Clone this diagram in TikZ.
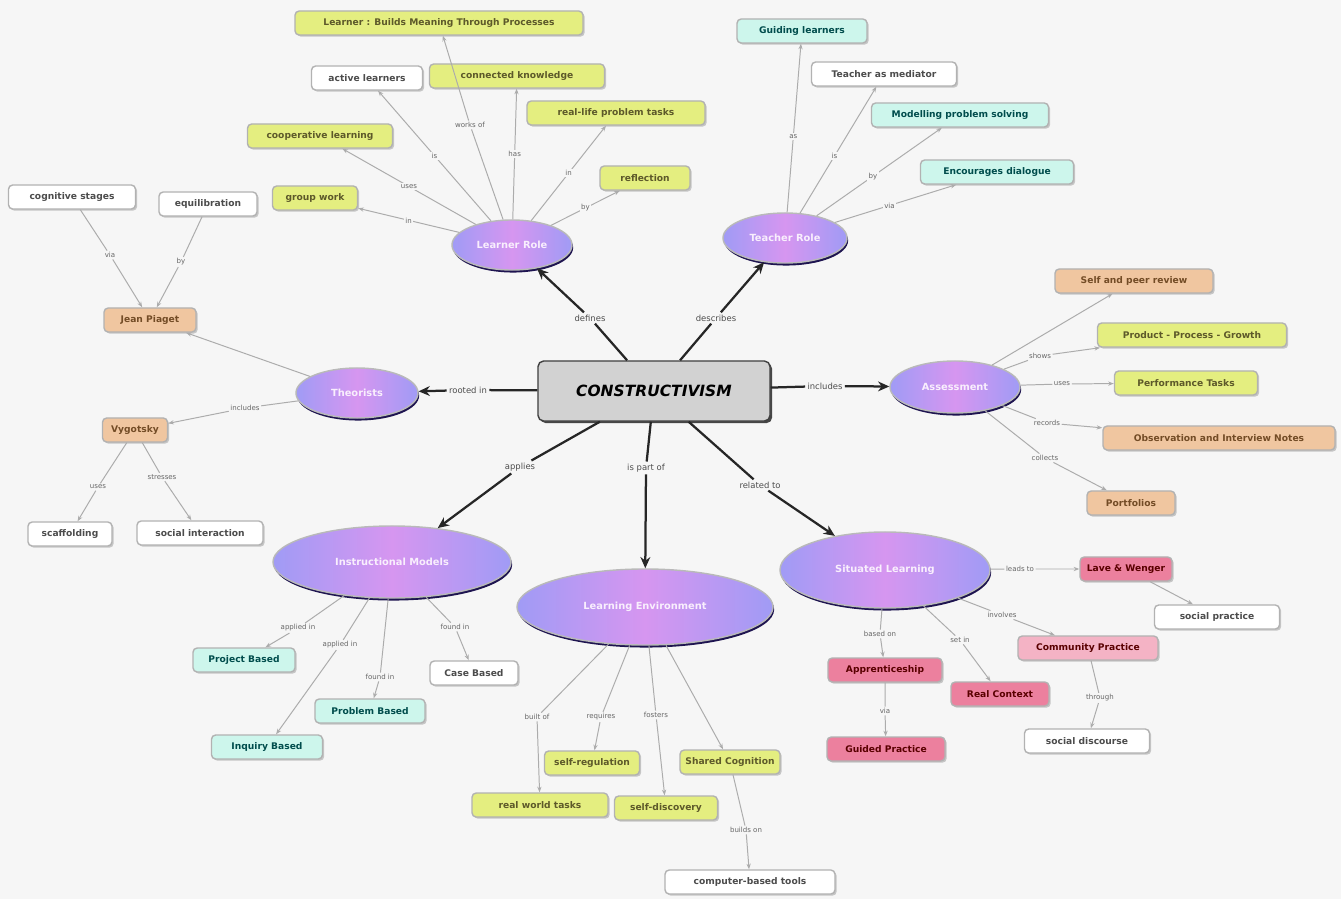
\documentclass[tikz,border=0pt]{standalone}
\usepackage{fontspec}
\setmainfont{DejaVu Sans}
\usepackage{tikz}
\usetikzlibrary{shapes.geometric,shadows,arrows.meta}

\definecolor{bg}{RGB}{246,246,246}
\definecolor{ylw}{RGB}{228,238,128}
\definecolor{cyn}{RGB}{205,246,236}
\definecolor{org}{RGB}{240,198,160}
\definecolor{pnk}{RGB}{236,128,158}
\definecolor{lav}{RGB}{160,155,245}
\definecolor{vio}{RGB}{214,150,240}
\definecolor{navy}{RGB}{30,20,80}

\tikzset{
  concept/.style={draw=gray!60, line width=1pt, rounded corners=3pt, inner sep=2pt,
    minimum height=0.6cm, font=\fontsize{6.5}{7}\selectfont\bfseries,
    drop shadow={shadow xshift=1.2pt, shadow yshift=-1.2pt, fill=gray!60, opacity=.7}},
  bw/.style={minimum width=#1*0.025cm},
  ylwbox/.style={concept, fill=ylw, text=olive!55!black},
  cynbox/.style={concept, fill=cyn, text=teal!60!black},
  orgbox/.style={concept, fill=org, text=brown!60!black},
  pnkbox/.style={concept, fill=pnk, text=red!35!black},
  whtbox/.style={concept, fill=white, text=black!70},
  topic/.style={ellipse, draw=gray!55, line width=1pt, left color=lav, right color=lav, middle color=vio,
    text=white!85!vio, font=\fontsize{7}{8}\selectfont\bfseries,
    drop shadow={shadow xshift=.8pt, shadow yshift=-1.8pt, fill=navy, opacity=1}},
  core/.style={draw=black!75, fill=gray!35, rounded corners=4pt, line width=1pt,
    minimum width=5.8cm, minimum height=1.5cm,
    font=\fontsize{11}{13}\selectfont\bfseries\itshape,
    drop shadow={shadow xshift=1.5pt, shadow yshift=-1.5pt, fill=black!80, opacity=.9}},
  lbl/.style={fill=bg, inner sep=1pt, text=black!60, font=\fontsize{5}{6}\selectfont},
  mlbl/.style={fill=bg, inner sep=1.5pt, text=black!70, font=\fontsize{6}{7}\selectfont},
  mainarr/.style={line width=1.6pt, black!85, -{Stealth[length=8pt,width=7pt]}},
  link/.style={draw=gray!65, line width=.7pt, -{Stealth[length=4pt,width=3pt]}}
}

\begin{document}
\begin{tikzpicture}[x=0.025cm, y=-0.025cm]
\path[use as bounding box, fill=bg] (0,0) rectangle (1341,899);

% centre and topics
\node[core] (cons) at (654,391) {CONSTRUCTIVISM};
\node[topic, minimum width=3cm, minimum height=1.25cm] (learn) at (512,245) {Learner Role};
\node[topic, minimum width=3.1cm, minimum height=1.25cm] (teach) at (785,238) {Teacher Role};
\node[topic, minimum width=3.05cm, minimum height=1.25cm] (theory) at (357,393) {Theorists};
\node[topic, minimum width=3.25cm, minimum height=1.3cm] (assess) at (955,387) {Assessment};
\node[topic, minimum width=5.95cm, minimum height=1.8cm] (models) at (392,562) {Instructional Models};
\node[topic, minimum width=6.4cm, minimum height=1.9cm] (envir) at (645,607) {Learning Environment};
\node[topic, minimum width=5.25cm, minimum height=1.9cm] (situ) at (885,570) {Situated Learning};

\node[mlbl] (m1) at (590,318) {defines};
\node[mlbl] (m2) at (716,318) {describes};
\node[mlbl] (m3) at (468,390) {rooted in};
\node[mlbl] (m4) at (825,386) {includes};
\node[mlbl] (m5) at (520,467) {applies};
\node[mlbl] (m6) at (646,468) {is part of};
\node[mlbl] (m7) at (760,485) {related to};
\foreach \l/\t in {m1/learn, m2/teach, m3/theory, m4/assess, m5/models, m6/envir, m7/situ}
  \draw[mainarr] (cons) -- (\l) -- (\t);

% learner role
\node[ylwbox, bw=288] (procs) at (439,23) {Learner : Builds Meaning Through Processes};
\node[whtbox, bw=111] (active) at (367,78) {active learners};
\node[ylwbox, bw=175] (connect) at (517,76) {connected knowledge};
\node[ylwbox, bw=178] (reallife) at (616,113) {real-life problem tasks};
\node[ylwbox, bw=145] (coop) at (320,136) {cooperative learning};
\node[ylwbox, bw=85] (group) at (315,198) {group work};
\node[ylwbox, bw=90] (reflect) at (645,178) {reflection};
\node[lbl] (lw) at (470,125) {works of};
\draw[link] (learn) -- (lw) -- (procs);
\foreach \n/\t in {active/is, connect/has, reallife/in, coop/uses, group/in, reflect/by}
  \draw[link] (learn) -- node[lbl]{\t} (\n);

% teacher role
\node[cynbox, bw=130] (guide) at (802,31) {Guiding learners};
\node[whtbox, bw=145] (mediat) at (884,74) {Teacher as mediator};
\node[cynbox, bw=177] (modelling) at (960,115) {Modelling problem solving};
\node[cynbox, bw=153] (dialog) at (997,172) {Encourages dialogue};
\foreach \n/\t in {guide/as, mediat/is, modelling/by, dialog/via}
  \draw[link] (teach) -- node[lbl, pos=.45]{\t} (\n);

% theorists
\node[whtbox, bw=127] (stages) at (72,197) {cognitive stages};
\node[whtbox, bw=98] (equil) at (208,204) {equilibration};
\node[orgbox, bw=92] (piaget) at (150,320) {Jean Piaget};
\node[orgbox, bw=65] (vygot) at (135,430) {Vygotsky};
\node[whtbox, bw=84] (scaff) at (70,534) {scaffolding};
\node[whtbox, bw=126] (social) at (200,533) {social interaction};
\node[lbl] (l31) at (110,255) {via};
\node[lbl] (l32) at (181,262) {by};
\node[lbl] (l33) at (245,408) {includes};
\node[lbl] (l34) at (98,487) {uses};
\node[lbl] (l35) at (162,477) {stresses};
\draw[link] (stages) -- (l31) -- (piaget);
\draw[link] (equil) -- (l32) -- (piaget);
\draw[link] (theory) -- (piaget);
\draw[link] (theory) -- (l33) -- (vygot);
\draw[link] (vygot) -- (l34) -- (scaff);
\draw[link] (vygot) -- (l35) -- (social);

% assessment
\node[orgbox, bw=158] (peer) at (1134,281) {Self and peer review};
\node[ylwbox, bw=189] (prod) at (1192,335) {Product - Process - Growth};
\node[ylwbox, bw=143] (perf) at (1186,383) {Performance Tasks};
\node[orgbox, bw=232] (observ) at (1219,438) {Observation and Interview Notes};
\node[orgbox, bw=88] (portf) at (1131,503) {Portfolios};
\node[lbl] (l41) at (1040,356) {shows};
\node[lbl] (l42) at (1062,384) {uses};
\node[lbl] (l43) at (1047,423) {records};
\node[lbl] (l44) at (1045,458) {collects};
\draw[link] (assess) -- (peer);
\draw[link] (assess) -- (l41) -- (prod);
\draw[link] (assess) -- (l42) -- (perf);
\draw[link] (assess) -- (l43) -- (observ);
\draw[link] (assess) -- (l44) -- (portf);

% instructional models
\node[cynbox, bw=102] (project) at (244,660) {Project Based};
\node[cynbox, bw=111] (inquiry) at (267,747) {Inquiry Based};
\node[cynbox, bw=110] (problem) at (370,711) {Problem Based};
\node[whtbox, bw=88] (case) at (474,673) {Case Based};
\node[lbl] (l51) at (298,628) {applied in};
\node[lbl] (l52) at (340,645) {applied in};
\node[lbl] (l53) at (380,677) {found in};
\node[lbl] (l54) at (455,627) {found in};
\draw[link] (models) -- (l51) -- (project);
\draw[link] (models) -- (l52) -- (inquiry);
\draw[link] (models) -- (l53) -- (problem);
\draw[link] (models) -- (l54) -- (case);

% learning environment
\node[ylwbox, bw=95] (selfreg) at (592,763) {self-regulation};
\node[ylwbox, bw=136] (realw) at (540,805) {real world tasks};
\node[ylwbox, bw=103] (selfdisc) at (666,808) {self-discovery};
\node[ylwbox, bw=100] (shared) at (730,762) {Shared Cognition};
\node[whtbox, bw=170] (tools) at (750,882) {computer-based tools};
\node[lbl] (l61) at (537,717) {built of};
\node[lbl] (l62) at (601,717) {requires};
\node[lbl] (l63) at (656,715) {fosters};
\node[lbl] (l64) at (746,830) {builds on};
\draw[link] (envir) -- (l61) -- (realw);
\draw[link] (envir) -- (l62) -- (selfreg);
\draw[link] (envir) -- (l63) -- (selfdisc);
\draw[link] (envir) -- (shared);
\draw[link] (shared) -- (l64) -- (tools);

% situated learning
\node[pnkbox, bw=92] (lave) at (1126,569) {Lave \& Wenger};
\node[whtbox, bw=125] (socprac) at (1217,617) {social practice};
\node[pnkbox, bw=114] (appren) at (885,670) {Apprenticeship};
\node[pnkbox, bw=118] (guided) at (886,749) {Guided Practice};
\node[pnkbox, bw=98] (context) at (1000,694) {Real Context};
\node[pnkbox, bw=140, fill=pnk!60] (commun) at (1088,648) {Community Practice};
\node[whtbox, bw=125] (discourse) at (1087,741) {social discourse};
\node[lbl] (l71) at (1020,569) {leads to};
\node[lbl] (l72) at (880,634) {based on};
\node[lbl] (l73) at (885,711) {via};
\node[lbl] (l74) at (960,640) {set in};
\node[lbl] (l75) at (1002,615) {involves};
\node[lbl] (l76) at (1100,698) {through};
\draw[link] (situ) -- (l71) -- (lave);
\draw[link] (lave) -- (socprac);
\draw[link] (situ) -- (l72) -- (appren);
\draw[link] (appren) -- (l73) -- (guided);
\draw[link] (situ) -- (l74) -- (context);
\draw[link] (situ) -- (l75) -- (commun);
\draw[link] (commun) -- (l76) -- (discourse);
\end{tikzpicture}
\end{document}
